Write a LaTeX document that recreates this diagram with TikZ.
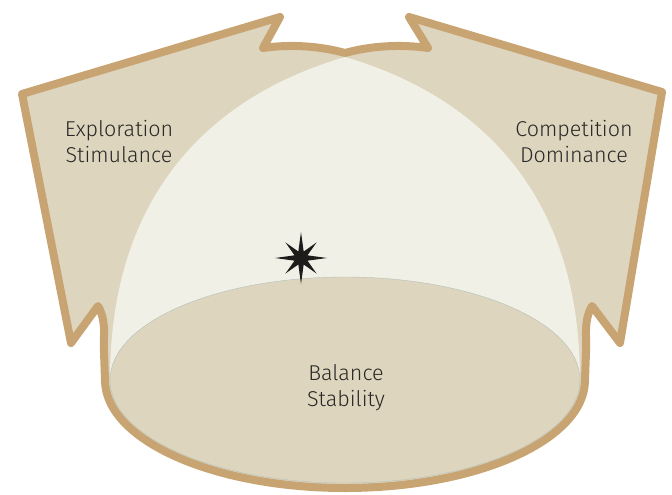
\documentclass[tikz,border=0pt]{standalone}
\usepackage{fontspec}
\setmainfont{Fira Sans Light}
\definecolor{rim}{HTML}{C9A473}
\definecolor{sand}{HTML}{DDD5BE}
\definecolor{cream}{HTML}{F1F0E7}
\definecolor{edge}{HTML}{B3C0BA}
\definecolor{ink}{HTML}{2A2827}
\definecolor{starink}{HTML}{1E1B1B}
\tikzset{
  rimline/.style={draw=rim, line width=8pt, line join=round, line cap=round},
  label/.style={text=ink, align=center, font=\fontsize{21.5}{26}\selectfont, inner sep=0pt},
}
\begin{document}
\begin{tikzpicture}[x=1pt,y=-1pt]
\useasboundingbox (0,0) rectangle (672,495);
% outer shape
\path[fill=sand] (280,17) -- (263,48)
  .. controls (290,44) and (320,46) .. (345,53)
  .. controls (370,46) and (400,44) .. (428,48)
  -- (409,17) -- (662,92) -- (620,343) -- (592,306)
  .. controls (583,322) and (587,336) .. (586,352) -- (585,380)
  arc[start angle=0, end angle=180, x radius=240, y radius=108]
  -- (104,352) .. controls (103,336) and (107,322) .. (98,306)
  -- (71,343) -- (22,94) -- cycle;
% dome
\path[fill=cream] (110,380) .. controls (110,190) and (215,95) .. (345,57)
  .. controls (475,95) and (580,190) .. (580,380) -- cycle;
% base ellipse
\path[fill=sand, draw=edge, line width=0.4pt] (345,380) ellipse[x radius=235, y radius=103];
% rim
\draw[rimline] (280,17) -- (263,48)
  .. controls (290,44) and (320,46) .. (345,53)
  .. controls (370,46) and (400,44) .. (428,48)
  -- (409,17) -- (662,92) -- (620,343) -- (592,306)
  .. controls (583,322) and (587,336) .. (586,352) -- (585,380)
  arc[start angle=0, end angle=180, x radius=240, y radius=108]
  -- (104,352) .. controls (103,336) and (107,322) .. (98,306)
  -- (71,343) -- (22,94) -- cycle;
% star
\begin{scope}[shift={(301,258)}]
\fill[starink] (0:26) -- (22.5:7) -- (45:22) -- (67.5:7) -- (90:26) -- (112.5:7) -- (135:22) -- (157.5:7)
  -- (180:26) -- (202.5:7) -- (225:22) -- (247.5:7) -- (270:26) -- (292.5:7) -- (315:22) -- (337.5:7) -- cycle;
\end{scope}
% labels
\node[label] (explore) at (119,142) {Exploration\\Stimulance};
\node[label] (compete) at (574,142) {Competition\\Dominance};
\node[label] (balance) at (346,387.5) {Balance\\Stability};
\end{tikzpicture}
\end{document}
